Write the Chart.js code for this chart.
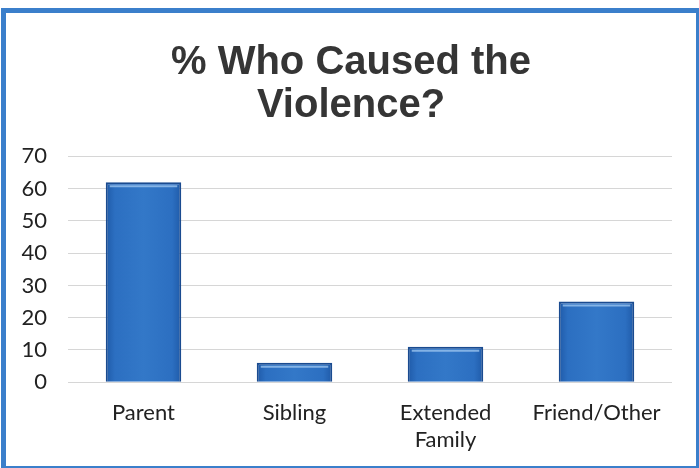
<!DOCTYPE html>
<html>
<head>
<meta charset="utf-8">
<script src="https://cdn.jsdelivr.net/npm/chart.js@4"></script>
<style>
  html, body { margin: 0; padding: 0; background: #fff; }
  .frame {
    position: absolute; left: 1px; top: 8px;
    width: 690px; height: 453px;
    border: 5px solid #3b7fcb;
    background: #fff;
  }
  canvas { display: block; }
</style>
</head>
<body>
<div class="frame">
  <canvas id="chart" width="690" height="453"></canvas>
</div>
<script>
// 카테고리와 값
const categories = ["Parent", "Sibling", ["Extended", "Family"], "Friend/Other"];
const percents = [62, 6, 11, 25];
const yTicks = [0, 10, 20, 30, 40, 50, 60, 70];

// 막대 그라데이션 (가운데가 살짝 밝은 파랑)
const barFill = (context) => {
  const chart = context.chart;
  const el = context.element;
  if (!el || !chart.chartArea || !isFinite(el.x) || !isFinite(el.width)) return "#2c6fc1";
  const x0 = el.x - el.width / 2;
  const x1 = el.x + el.width / 2;
  const g = chart.ctx.createLinearGradient(x0, 0, x1, 0);
  g.addColorStop(0, "#1f5aa8");
  g.addColorStop(0.12, "#2c6fc1");
  g.addColorStop(0.5, "#3378c8");
  g.addColorStop(0.88, "#2c6fc1");
  g.addColorStop(1, "#1f5aa8");
  return g;
};

// 막대 윗부분 하이라이트 (베벨 느낌)
const bevel = {
  id: "bevel",
  afterDatasetsDraw(chart) {
    const ctx = chart.ctx;
    chart.getDatasetMeta(0).data.forEach((bar) => {
      const x0 = bar.x - bar.width / 2 + 4;
      const x1 = bar.x + bar.width / 2 - 4;
      ctx.save();
      ctx.strokeStyle = "rgba(160,200,240,0.75)";
      ctx.lineWidth = 2;
      ctx.beginPath();
      ctx.moveTo(x0, bar.y + 4);
      ctx.lineTo(x1, bar.y + 4);
      ctx.stroke();
      ctx.restore();
    });
  },
};

const chart = new Chart(document.getElementById("chart").getContext("2d"), {
  type: "bar",
  data: {
    labels: categories,
    datasets: [
      {
        data: percents,
        backgroundColor: barFill,
        borderColor: "#1a4b90",
        borderWidth: 2,
        barPercentage: 0.5,
        categoryPercentage: 1,
      },
    ],
  },
  options: {
    responsive: false,
    animation: false,
    layout: { padding: { left: 0, right: 0, top: 4, bottom: 3 } },
    plugins: {
      legend: { display: false },
      tooltip: { enabled: false },
      title: {
        display: true,
        text: ["% Who Caused the", "Violence?"],
        color: "#353535",
        font: { family: "Liberation Sans", size: 40, weight: "bold", lineHeight: 1.08 },
        padding: { top: 24, bottom: 29 },
      },
    },
    scales: {
      x: {
        grid: { display: false },
        border: { display: false },
        ticks: {
          color: "#222",
          font: { family: "Lato", size: 22 },
          padding: 10,
          maxRotation: 0,
        },
      },
      y: {
        min: 0,
        max: 70,
        afterBuildTicks: (axis) => {
          axis.ticks = yTicks.map((v) => ({ value: v }));
        },
        afterFit: (axis) => {
          axis.width = 62;
        },
        grid: { color: "#d6d6d6", lineWidth: 1, drawTicks: false },
        border: { display: false },
        ticks: {
          color: "#222",
          font: { family: "Lato", size: 22 },
          padding: 21,
        },
      },
      // 오른쪽 여백용 빈 축
      y2: {
        position: "right",
        grid: { display: false },
        border: { display: false },
        ticks: { display: false },
        afterFit: (axis) => {
          axis.width = 24;
        },
      },
    },
  },
  plugins: [bevel],
});
chart.update();
</script>
</body>
</html>
